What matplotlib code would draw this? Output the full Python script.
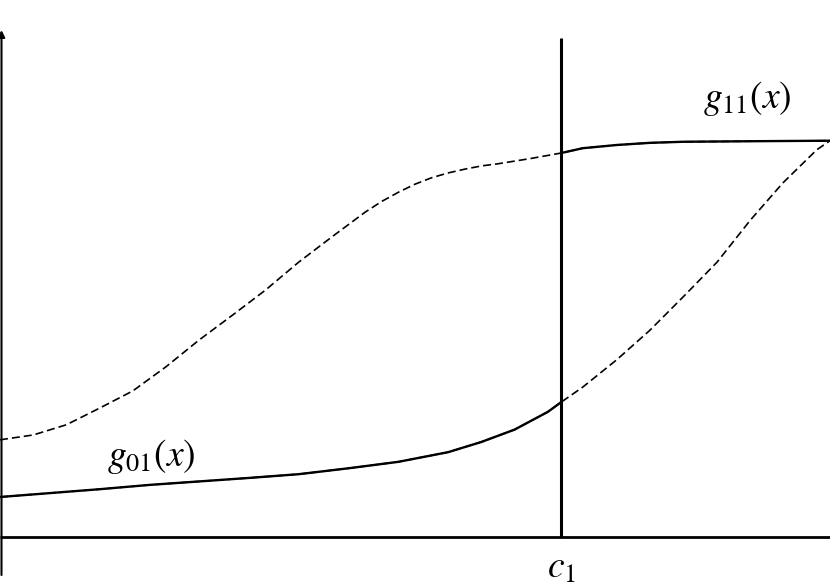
import numpy as np
import matplotlib
matplotlib.use("Agg")
import matplotlib.pyplot as plt

plt.rcParams['mathtext.fontset'] = 'stix'

# threshold position
c1 = 6.76

# g11(x): upper curve (dashed left of c1, solid right of c1)
g11_x = np.array([0, 0.4, 0.8, 1.2, 1.6, 2.0, 2.4, 2.8, 3.2, 3.6, 4.0, 4.4, 4.6, 4.8, 5.0,
                  5.2, 5.4, 5.6, 5.8, 6.0, 6.4, 6.76, 7.02, 7.43, 7.83, 8.23, 9.04, 10.0])
g11_y = np.array([1.81, 1.90, 2.09, 2.40, 2.72, 3.17, 3.67, 4.13, 4.60, 5.12, 5.59, 6.05,
                  6.25, 6.42, 6.57, 6.69, 6.78, 6.85, 6.91, 6.95, 7.05, 7.15, 7.24, 7.30,
                  7.34, 7.36, 7.37, 7.38])

# g01(x): lower curve (solid left of c1, dashed right of c1)
g01_x = np.array([0, 1.2, 1.8, 3.0, 3.6, 4.2, 4.8, 5.4, 5.8, 6.2, 6.6, 6.76,
                  7.02, 7.43, 7.83, 8.23, 8.64, 9.04, 9.43, 9.84, 10.0])
g01_y = np.array([0.745, 0.89, 0.97, 1.10, 1.17, 1.28, 1.40, 1.58, 1.77, 2.00, 2.33, 2.51,
                  2.79, 3.30, 3.85, 4.47, 5.12, 5.90, 6.59, 7.21, 7.38])

fig = plt.figure(figsize=(8.3, 5.87), dpi=100)
ax = fig.add_axes([0, 0, 1, 1])
ax.set_xlim(0, 10)
ax.set_ylim(-0.931, 10.0)
ax.axis('off')

dash = dict(color='black', lw=1.2, dashes=(4.8, 2.4))
ax.plot(g11_x, g11_y, **dash)
ax.plot(g01_x, g01_y, **dash)

m = g11_x >= c1
ax.plot(g11_x[m], g11_y[m], color='black', lw=1.7, solid_capstyle='butt')
m = g01_x <= c1
ax.plot(g01_x[m], g01_y[m], color='black', lw=1.7, solid_capstyle='butt')

# axes lines
ax.plot([0, 10], [0, 0], color='black', lw=2.0, solid_capstyle='butt')
ax.plot([c1, c1], [0, 9.29], color='black', lw=2.2, solid_capstyle='butt')
ax.annotate('', xy=(0.018, 9.44), xytext=(0.018, -0.708),
            arrowprops=dict(arrowstyle='-|>', color='black', lw=1.5,
                            mutation_scale=10, shrinkA=0, shrinkB=0))

ax.text(9.0, 8.16, r'$g_{11}(x)$', fontsize=27, ha='center', va='center')
ax.text(1.82, 1.49, r'$g_{01}(x)$', fontsize=27, ha='center', va='center')
ax.text(c1, -0.58, r'$c_1$', fontsize=27, ha='center', va='center')

fig.savefig('out.png', dpi=100)
